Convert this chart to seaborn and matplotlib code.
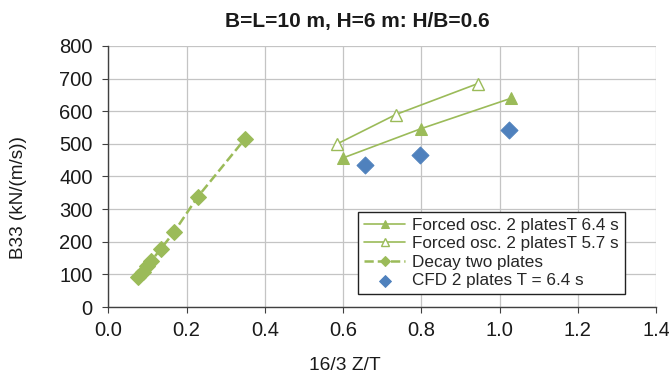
import numpy as np
import pandas as pd
import matplotlib
matplotlib.use("Agg")
import matplotlib.pyplot as plt
import seaborn as sns

# Data
forced64_x = [0.600, 0.798, 1.030]
forced64_y = [457, 546, 640]
forced57_x = [0.585, 0.735, 0.945]
forced57_y = [500, 590, 685]
decay_x = [0.077, 0.088, 0.099, 0.110, 0.134, 0.168, 0.228, 0.349]
decay_y = [92, 108, 125, 142, 178, 230, 337, 515]
cfd_x = [0.656, 0.797, 1.023]
cfd_y = [435, 466, 541]

labels = ["Forced osc. 2 platesT 6.4 s", "Forced osc. 2 platesT 5.7 s",
          "Decay two plates", "CFD 2 plates T = 6.4 s"]
x_ticks = [0.0, 0.2, 0.4, 0.6, 0.8, 1.0, 1.2, 1.4]
y_ticks = [0, 100, 200, 300, 400, 500, 600, 700, 800]

sns.set_theme(style="whitegrid")
plt.rcParams["font.family"] = ["Liberation Sans", "DejaVu Sans"]

green = "#9BBB59"
blue = "#4F81BD"
txt = "#1a1a1a"

fig = plt.figure(figsize=(6.69, 3.76), dpi=100)
ax = fig.add_axes([0.162, 0.1835, 0.8186, 0.6942])

df64 = pd.DataFrame({"x": forced64_x, "y": forced64_y})
df57 = pd.DataFrame({"x": forced57_x, "y": forced57_y})
dfd = pd.DataFrame({"x": decay_x, "y": decay_y})
dfc = pd.DataFrame({"x": cfd_x, "y": cfd_y})

sns.lineplot(data=df64, x="x", y="y", ax=ax, color=green, lw=1.2, marker="^",
             markersize=8, markerfacecolor=green, markeredgecolor=green,
             label=labels[0], sort=False)
sns.lineplot(data=df57, x="x", y="y", ax=ax, color=green, lw=1.2, marker="^",
             markersize=8, markerfacecolor="white", markeredgecolor=green,
             markeredgewidth=1.0, label=labels[1], sort=False)
sns.lineplot(data=dfd, x="x", y="y", ax=ax, color=green, lw=1.8, ls="--",
             marker="D", markersize=8, markerfacecolor=green,
             markeredgecolor=green, label=labels[2], sort=False)
sns.scatterplot(data=dfc, x="x", y="y", ax=ax, color=blue, marker="D", s=75,
                edgecolor=blue, label=labels[3])

ax.set_xlim(0, 1.4)
ax.set_ylim(0, 800)
ax.set_xticks(x_ticks)
ax.set_xticklabels([f"{v:.1f}" for v in x_ticks])
ax.set_yticks(y_ticks)
ax.set_yticklabels([str(v) for v in y_ticks])

ax.grid(True, color="#C4C4C4", lw=0.9)
for s in ["top", "right"]:
    ax.spines[s].set_visible(False)
for s in ["left", "bottom"]:
    ax.spines[s].set_color("#404040")
    ax.spines[s].set_linewidth(1.0)
ax.tick_params(axis="both", which="major", length=4.3, width=0.8, color="#404040",
               direction="out", labelsize=14.5, labelcolor=txt)
ax.tick_params(axis="y", left=True, pad=7)
ax.tick_params(axis="x", bottom=True, pad=5.5)

ax.set_xlabel("16/3 Z/T", fontsize=13.8, color=txt, va="center")
ax.xaxis.set_label_coords(0.432, -0.226)
ax.set_ylabel("B33 (kN/(m/s))", fontsize=13.6, color=txt, va="center")
ax.yaxis.set_label_coords(-0.165, 0.418)
fig.text(357 / 669, 1 - 22 / 376, "B=L=10 m, H=6 m: H/B=0.6", fontsize=15,
         fontweight="bold", color=txt, ha="center", va="center")

leg = ax.legend(loc="lower right", bbox_to_anchor=(0.9434, 0.0498), fontsize=12.3,
                frameon=True, fancybox=False, edgecolor="#222222",
                framealpha=1, borderpad=0.35, labelspacing=0.2,
                handlelength=2.35, handletextpad=0.45, borderaxespad=0,
                markerscale=0.7)
leg.get_frame().set_linewidth(1.0)

fig.savefig("out.png", dpi=100)
